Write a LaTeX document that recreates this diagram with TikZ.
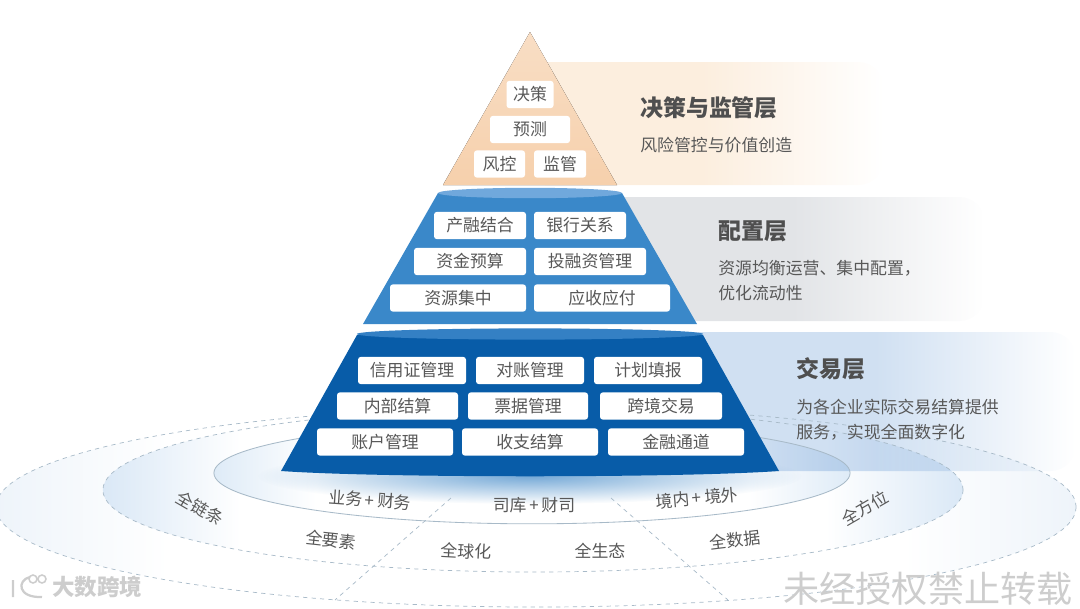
\documentclass[tikz,border=0pt]{standalone}
\usepackage{fontspec}
\setmainfont{Noto Sans CJK SC}
\usepackage{tikz}
\usetikzlibrary{positioning, calc, fadings}
\definecolor{LayerPeach}{RGB}{246,208,172}
\definecolor{LayerMid}{RGB}{58,136,201}
\definecolor{LayerDeep}{RGB}{8,92,168}
\definecolor{CapMid}{RGB}{112,168,220}
\definecolor{CapDeep}{RGB}{52,128,196}
\definecolor{BandPeach}{RGB}{252,238,222}
\definecolor{BandGray}{RGB}{226,228,231}
\definecolor{BandBlue}{RGB}{208,224,242}
\definecolor{RingLine}{RGB}{168,186,200}
\definecolor{RingOuter}{RGB}{238,244,250}
\definecolor{RingMiddle}{RGB}{218,232,246}
\definecolor{RingInner}{RGB}{222,235,247}
\definecolor{TextGray}{RGB}{88,88,88}
\definecolor{MarkGray}{RGB}{205,205,205}
% fades to white on the right, flat on the left half
\newcommand{\bandshade}[2]{\pgfdeclarehorizontalshading{#1}{100bp}{
    color(0bp)=(#2); color(50bp)=(#2); color(75bp)=(white); color(100bp)=(white)}}
% tinted at both ends, white in the centre
\newcommand{\ringshade}[2]{\pgfdeclarehorizontalshading{#1}{100bp}{
    color(0bp)=(#2); color(25bp)=(#2); color(33bp)=(white); color(67bp)=(white);
    color(75bp)=(#2); color(100bp)=(#2)}}
\bandshade{peachband}{BandPeach}
\bandshade{grayband}{BandGray}
\bandshade{blueband}{BandBlue}
\ringshade{outerring}{RingOuter}
\ringshade{middlering}{RingMiddle}
\ringshade{innerring}{RingInner}
\tikzfading[name=glowfade, inner color=transparent!15, outer color=transparent!100]

\begin{document}
\begin{tikzpicture}[
      x=0.025cm, y=-0.025cm,
      tagbox/.style={rectangle, fill=white, rounded corners=2pt, inner sep=0pt,
                     minimum height=0.68cm, text=TextGray, font=\fontsize{12}{14}\selectfont},
      headlbl/.style={anchor=west, inner sep=0pt, text=TextGray!90!black,
                      font=\fontsize{16.3}{18}\selectfont\bfseries},
      bodylbl/.style={anchor=west, inner sep=0pt, text=TextGray,
                      font=\fontsize{12}{14}\selectfont},
      ringlbl/.style={inner sep=0pt, text=TextGray, font=\fontsize{12}{14}\selectfont},
      ringline/.style={draw=RingLine, dashed, line width=0.5pt}
    ]
    \useasboundingbox (0,0) rectangle (1080,608);

    % Rings under the pyramid
    \path[shading=outerring] (536,507) ellipse [x radius=13.5cm, y radius=2.5cm];
    \path[shading=middlering] (533,490) ellipse [x radius=10.75cm, y radius=2.05cm];
    \path[shading=innerring] (532,473) ellipse [x radius=7.95cm, y radius=1.27cm];

    % Side bands
    \path[shading=peachband, rounded corners=18pt] (520,62) rectangle (884,185);
    \path[shading=grayband, rounded corners=18pt] (600,197) rectangle (985,321);
    \path[shading=blueband, rounded corners=18pt, blend mode=multiply] (675,332) rectangle (1076,471);

    % Glow and ring outlines
    \fill[CapDeep!80, path fading=glowfade] (530,476) ellipse [x radius=6.8cm, y radius=0.7cm];
    \draw[ringline] (536,507) ellipse [x radius=13.5cm, y radius=2.5cm];
    \draw[ringline] (533,490) ellipse [x radius=10.75cm, y radius=2.05cm];
    \draw[RingLine, line width=0.6pt] (532,473) ellipse [x radius=7.95cm, y radius=1.27cm];
    \draw[ringline] (451,498) -- (335,600);
    \draw[ringline] (611,498) -- (728,600);

    % Layer 3 - top
    \fill[top color=LayerPeach!70, bottom color=LayerPeach] (530,32) -- (617,185) -- (443,185) -- cycle;

    % Layer 2 - middle
    \fill[LayerMid] (438,193) -- (622,193) -- (697,324) -- (363,324) -- cycle;
    \fill[CapMid] (530,193) ellipse [x radius=2.3cm, y radius=0.13cm];

    % Layer 1 - bottom
    \fill[LayerDeep] (357,335) -- (703,335) -- (779,471)
        .. controls (680,478) and (380,478) .. (281,471) -- cycle;
    \fill[CapDeep] (530,334) ellipse [x radius=4.33cm, y radius=0.14cm];

    % Tags of all layers
    \foreach \x/\y/\w/\name/\txt in {
        530/94.5/47/jc/决策,
        530/129.5/80/yc/预测,
        499.5/164/51/fk/风控,
        560/164/52/jg/监管,
        480/225.5/92/crjh/产融结合,
        580/225.5/92/yhgx/银行关系,
        470/261.5/112/zjys/资金预算,
        590/261.5/112/trz/投融资管理,
        458/298/136/zyjz/资源集中,
        602/298/136/ysyf/应收应付,
        412/370.5/108/xyz/信用证管理,
        530/370.5/108/dz/对账管理,
        648/370.5/108/jh/计划填报,
        397.5/406/121/nbjs/内部结算,
        528/406/120/pj/票据管理,
        661/406/122/kj/跨境交易,
        385/442/136/zh/账户管理,
        530/442/136/szjs/收支结算,
        676/442/136/jr/金融通道
      }{
        \node[tagbox, minimum width=\w*0.025cm] (tag\name) at (\x,\y) {\txt};
      }

    % Side labels
    \node[headlbl] (toph) at (640,108) {决策与监管层};
    \node[bodylbl] (topb) at (640,145) {风险管控与价值创造};
    \node[headlbl] (midh) at (718,231) {配置层};
    \node[bodylbl] (midb1) at (718,268) {资源均衡运营、集中配置，};
    \node[bodylbl] (midb2) at (718,293) {优化流动性};
    \node[headlbl] (lowh) at (796,369) {交易层};
    \node[bodylbl] (lowb1) at (796,407) {为各企业实际交易结算提供};
    \node[bodylbl] (lowb2) at (796,432) {服务，实现全面数字化};

    % Ring labels
    \node[ringlbl, rotate=-4] (rwa) at (370,500) {业务\,+\,财务};
    \node[ringlbl] (rwb) at (534,505) {司库\,+\,财司};
    \node[ringlbl, rotate=5] (rwc) at (697,498) {境内\,+\,境外};
    \node[ringlbl, rotate=-30] (qa) at (200,508) {全链条};
    \node[ringlbl, rotate=-6] (qb) at (331,540) {全要素};
    \node[ringlbl, rotate=-3] (qc) at (466,551) {全球化};
    \node[ringlbl] (qd) at (600,551) {全生态};
    \node[ringlbl, rotate=7] (qe) at (735,540) {全数据};
    \node[ringlbl, rotate=30] (qf) at (865,508) {全方位};

    % Watermarks
    \node[inner sep=0pt, text=MarkGray, font=\fontsize{25.7}{28}\selectfont] (markr) at (928,589) {未经授权禁止转载};
    \node[inner sep=0pt, anchor=west, text=MarkGray, font=\fontsize{16}{18}\selectfont\bfseries] (markl) at (52,587) {大数跨境};
    \draw[MarkGray, line width=1.6pt] (13,580) -- (13,597) (30,577) .. controls (17,580) and (17,598) .. (42,597);
    \draw[MarkGray, line width=1.1pt] (33,579) circle [radius=0.1cm] (42,579) circle [radius=0.1cm];
  \end{tikzpicture}
\end{document}
